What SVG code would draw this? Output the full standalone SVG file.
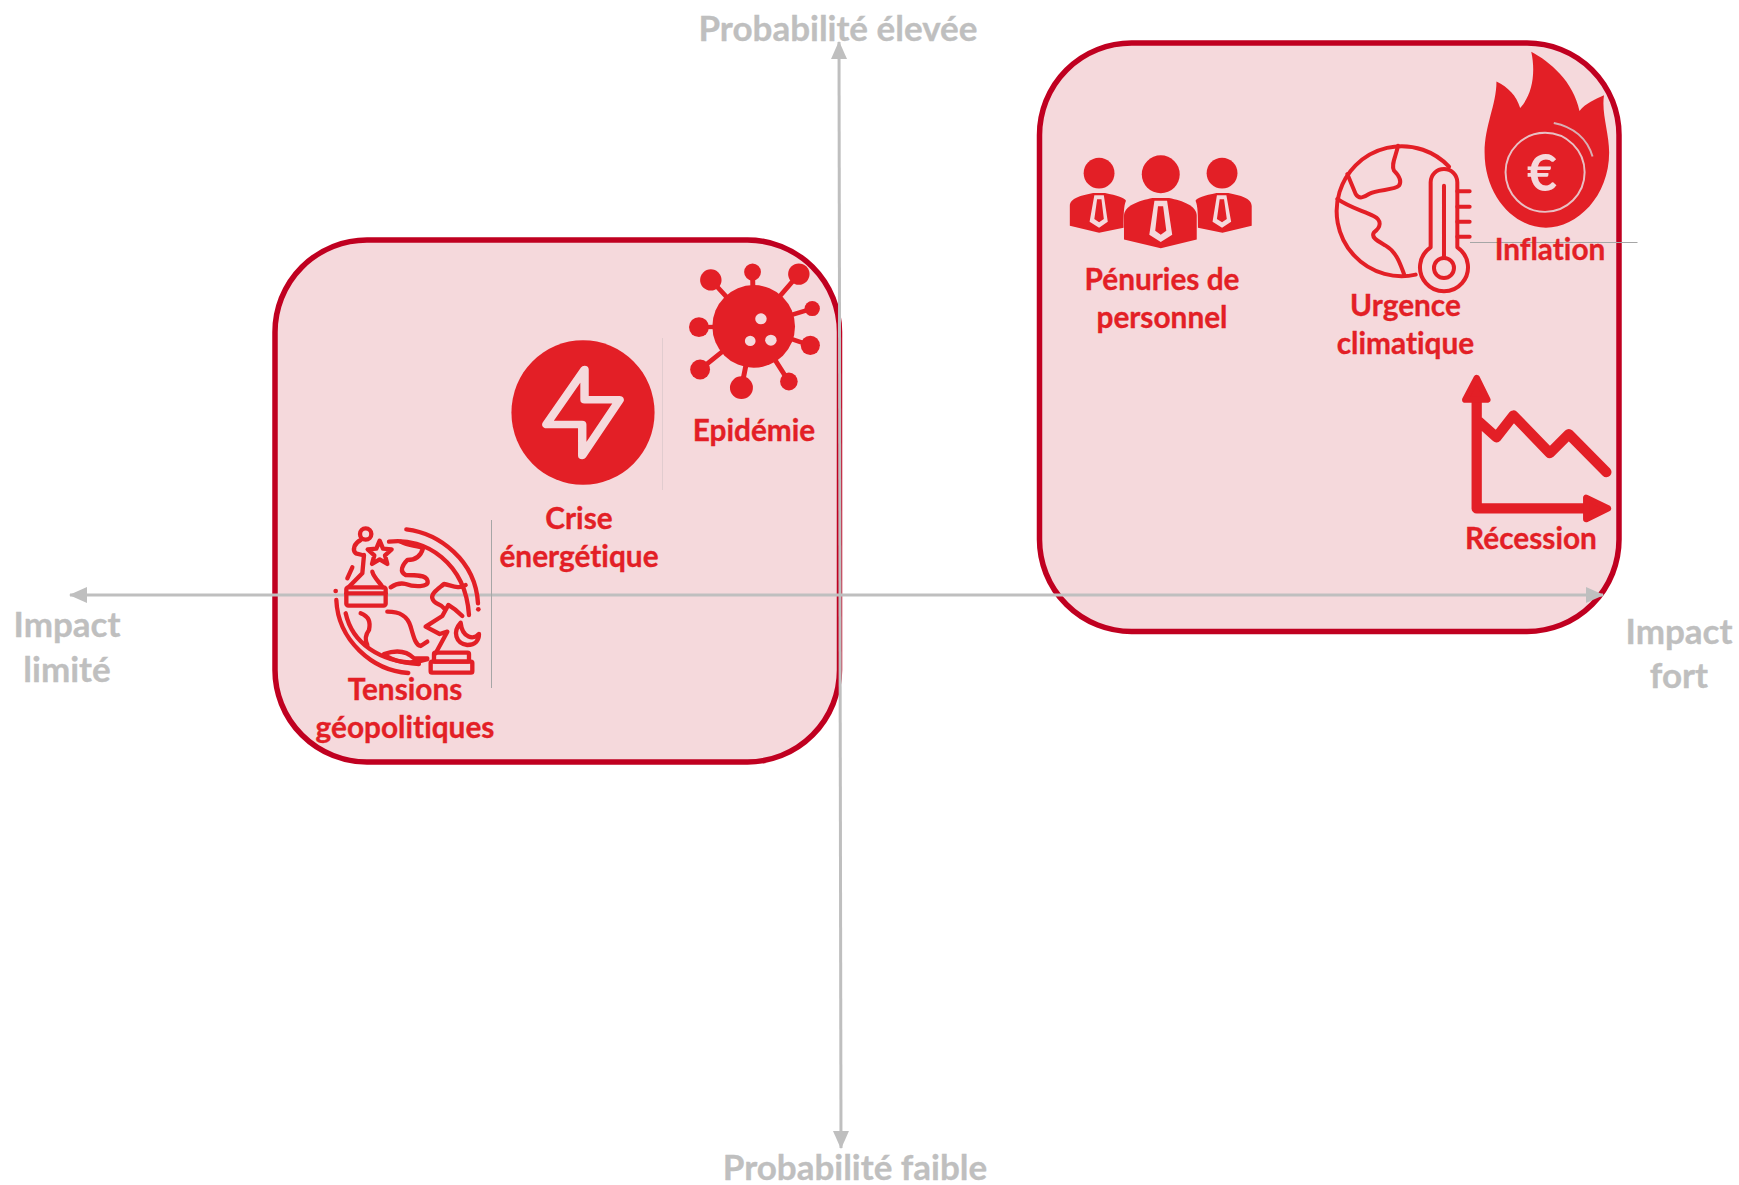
<svg xmlns="http://www.w3.org/2000/svg" width="1739" height="1185" viewBox="0 0 1739 1185">
<style>
.zone{fill:#f5d9dc;stroke:#c00020;stroke-width:5.500}
.lab{font-family:"Lato","Liberation Sans",sans-serif;font-weight:700;font-size:29.800px;fill:#e31f26;stroke:#e31f26;stroke-width:.35;text-anchor:middle;font-variant-ligatures:none}
.ax{font-family:"Lato","Liberation Sans",sans-serif;font-weight:700;font-size:35px;fill:#bfbfbf;stroke:#bfbfbf;stroke-width:.35;text-anchor:middle;font-variant-ligatures:none}
.axl{stroke:#bfbfbf;stroke-width:3;fill:none}
.thin{stroke:#a6a6a6;stroke-width:1;fill:none}
.r{fill:#e31f26}
.o{fill:none;stroke:#e31f26;stroke-linecap:round;stroke-linejoin:round}
.p{fill:#f5d9dc}
</style>
<defs>
<marker id="ah" markerUnits="userSpaceOnUse" markerWidth="18" markerHeight="16" refX="17" refY="8" orient="auto-start-reverse"><path d="M0,0L18,8L0,16Z" fill="#bfbfbf"/></marker>
</defs>
<g id="zone-left"><rect class="zone" x="275" y="240" width="564.500" height="522" rx="92"/></g>
<g id="zone-right"><rect class="zone" x="1039.500" y="43" width="579.500" height="588.500" rx="92"/></g>
<g id="connectors">
<path class="axl" d="M839,42L841,1148" marker-start="url(#ah)" marker-end="url(#ah)"/>
<path class="axl" d="M70,595H1603" marker-start="url(#ah)" marker-end="url(#ah)"/>
<path class="thin" d="M491.500,520V688"/>
<path class="thin" d="M662.500,338V490" opacity=".25"/>
<path class="thin" d="M1470,242.500H1637.500"/>
</g>
<g id="axis-labels">
<text class="ax" x="838" y="41">Probabilité élevée</text>
<text class="ax" x="855" y="1180">Probabilité faible</text>
<text class="ax" x="67" y="637">Impact</text>
<text class="ax" x="67" y="682">limité</text>
<text class="ax" x="1679" y="644">Impact</text>
<text class="ax" x="1679" y="688">fort</text>
</g>
<g id="penuries">
<g transform="translate(1020 30) scale(.3954)">
<circle class="r" cx="200" cy="362" r="39"/><circle class="r" cx="511" cy="362" r="39"/><circle class="r" cx="356" cy="365" r="48"/>
<path class="r" d="M126,495V445C126,425 155,418 185,412H215C245,418 266,425 268,432C262,445 262,470 262,500L200,513Z"/>
<path class="r" d="M586,495V445C586,425 557,418 527,412H497C467,418 446,425 444,432C450,445 450,470 450,500L512,513Z"/>
<path class="r" d="M263,530V470C263,445 300,432 335,425H377C412,432 447,445 447,470V530L356,552Z"/>
<path class="p" d="M188,418H212L222,485L200,500L176,485ZM498,418H522L534,485L511,500L487,485ZM340,432H372L385,518L356,536L327,518Z"/>
<path class="r" d="M195,428H206L212,478L200,486L188,478ZM505,428H516L523,478L511,486L498,478ZM349,446H362L370,508L356,518L342,508Z"/>
</g>
</g>
<g id="urgence">
<g transform="translate(1319 129) scale(.3333)">
<g class="o" stroke-width="12">
<path d="M390,113A195,195 0 1 0 290,437"/>
<path d="M237,50C232,80 215,105 225,125C240,140 250,155 240,170C225,185 175,180 150,195C135,205 120,212 110,195L85,135"/>
<path d="M55,210C90,235 130,245 165,262C190,275 185,295 165,310C155,325 175,335 200,350C235,370 245,410 255,435"/>
<path d="M335,355V160A40,40 0 0 1 415,160V355A72,72 0 1 1 335,355Z"/>
<circle cx="375" cy="417" r="30"/>
<path d="M375,170V385M415,187H452M415,233H452M415,278H452M415,323H452"/>
</g>
</g>
</g>
<g id="inflation">
<g transform="translate(1020 30) scale(.3954)">
<path class="r" d="M1293,55C1340,80 1400,130 1415,205C1430,185 1455,175 1477,165C1470,210 1490,260 1490,310C1490,420 1410,500 1330,500C1250,500 1175,420 1175,310C1175,240 1205,190 1205,130C1235,145 1255,165 1265,197C1295,165 1305,110 1293,55Z"/>
<circle cx="1328" cy="360" r="100" fill="none" stroke="#e8c0c4" stroke-width="5"/>
<path d="M1350,235C1400,245 1435,275 1448,320" fill="none" stroke="#d8b0b4" stroke-width="5"/>
</g>
<text x="1542" y="191" font-family="Lato,'Liberation Sans',sans-serif" font-weight="700" font-size="52" fill="#f5d9dc" text-anchor="middle">€</text>
</g>
<g id="recession">
<g transform="translate(1020 30) scale(.3954)">
<path class="o" stroke-width="26" d="M1155,920V1210H1440M1155,985L1205,1030L1248,975L1340,1070L1388,1022L1483,1118"/>
<path class="r" stroke="#e31f26" stroke-width="16" stroke-linejoin="round" d="M1155,880L1182,935H1126ZM1487,1210L1432,1183V1237Z"/>
</g>
</g>
<g id="epidemie">
<g transform="translate(260 230) scale(.3827 .3444)">
<path class="o" stroke-width="13" d="M1290,280L1178,145M1290,280L1287,122M1290,280L1408,128M1290,280L1443,228M1290,280L1438,335M1290,280L1382,440M1290,280L1258,458M1290,280L1150,405M1290,280L1147,282"/>
<ellipse class="r" cx="1290" cy="280" rx="108" ry="120"/>
<ellipse class="r" cx="1178" cy="145" rx="28" ry="31"/><ellipse class="r" cx="1287" cy="122" rx="22" ry="25"/><ellipse class="r" cx="1408" cy="128" rx="28" ry="31"/><ellipse class="r" cx="1443" cy="228" rx="20" ry="22"/><ellipse class="r" cx="1438" cy="335" rx="25" ry="28"/><ellipse class="r" cx="1382" cy="440" rx="23" ry="26"/><ellipse class="r" cx="1258" cy="458" rx="30" ry="33"/><ellipse class="r" cx="1150" cy="405" rx="26" ry="29"/><ellipse class="r" cx="1147" cy="282" rx="26" ry="29"/>
<ellipse class="p" cx="1309" cy="258" rx="15" ry="16"/><ellipse class="p" cx="1281" cy="322" rx="14" ry="15"/><ellipse class="p" cx="1335" cy="320" rx="15" ry="16"/>
</g>
</g>
<g id="crise">
<g transform="translate(260 230) scale(.3827 .3444)">
<ellipse class="r" cx="844" cy="530" rx="187" ry="210"/>
<path class="r" stroke="#f5d9dc" stroke-width="22" stroke-linejoin="round" d="M848,405L748,565H842V655L940,493H848Z"/>
</g>
</g>
<g id="tensions">
<g transform="translate(319 510) scale(.3333)">
<g class="o" stroke-width="13">
<path d="M262,58C360,70 470,150 477,280M210,95C320,80 440,160 450,315M52,270C57,390 160,482 268,489M80,310C100,400 180,455 300,462"/>
<circle cx="140" cy="72" r="17"/>
<path d="M125,90C105,100 100,120 110,130L130,135M135,135L130,190L90,230M160,185C165,205 190,225 190,232M100,172L85,205"/>
<rect x="82" y="232" width="118" height="55" rx="6"/><path d="M82,250H200"/>
<path d="M182,92L192,116L218,118L198,136L205,162L182,148L159,162L166,136L146,118L172,116Z"/>
<path d="M245,95C270,110 300,105 312,115C305,140 290,150 265,150C250,165 240,185 260,195C290,195 320,195 325,210C335,235 280,230 260,222C245,218 230,222 215,232"/>
<path d="M440,225C420,240 395,225 375,222C360,235 335,250 340,265C345,285 365,280 375,295"/>
<path d="M320,350L370,318L388,285C405,295 420,308 430,318M320,350L362,372L385,365L350,430"/>
<rect x="335" y="455" width="125" height="33" rx="4"/><rect x="345" y="428" width="105" height="27" rx="4"/>
<path d="M425,338C400,365 410,400 445,405C470,405 480,390 480,372C465,390 430,385 425,338Z"/>
<path d="M205,305C240,305 265,315 275,350C285,385 290,405 305,408L325,395M125,310C150,320 155,335 150,360C135,380 140,395 145,405M195,432C230,420 260,420 285,445L325,445M205,440C240,460 285,462 325,448"/>
</g>
<circle class="r" cx="50" cy="243" r="7"/><circle class="r" cx="478" cy="298" r="7"/>
</g>
</g>
<g id="labels">
<text class="lab" x="1162" y="290">Pénuries de</text>
<text class="lab" x="1162" y="328">personnel</text>
<text class="lab" x="1405.500" y="316">Urgence</text>
<text class="lab" x="1405.500" y="354">climatique</text>
<text class="lab" x="1550" y="260">Inflation</text>
<text class="lab" x="1531" y="549">Récession</text>
<text class="lab" x="754" y="441">Epidémie</text>
<text class="lab" x="579" y="529">Crise</text>
<text class="lab" x="579" y="567">énergétique</text>
<text class="lab" x="405" y="700">Tensions</text>
<text class="lab" x="405" y="738">géopolitiques</text>
</g>
</svg>
